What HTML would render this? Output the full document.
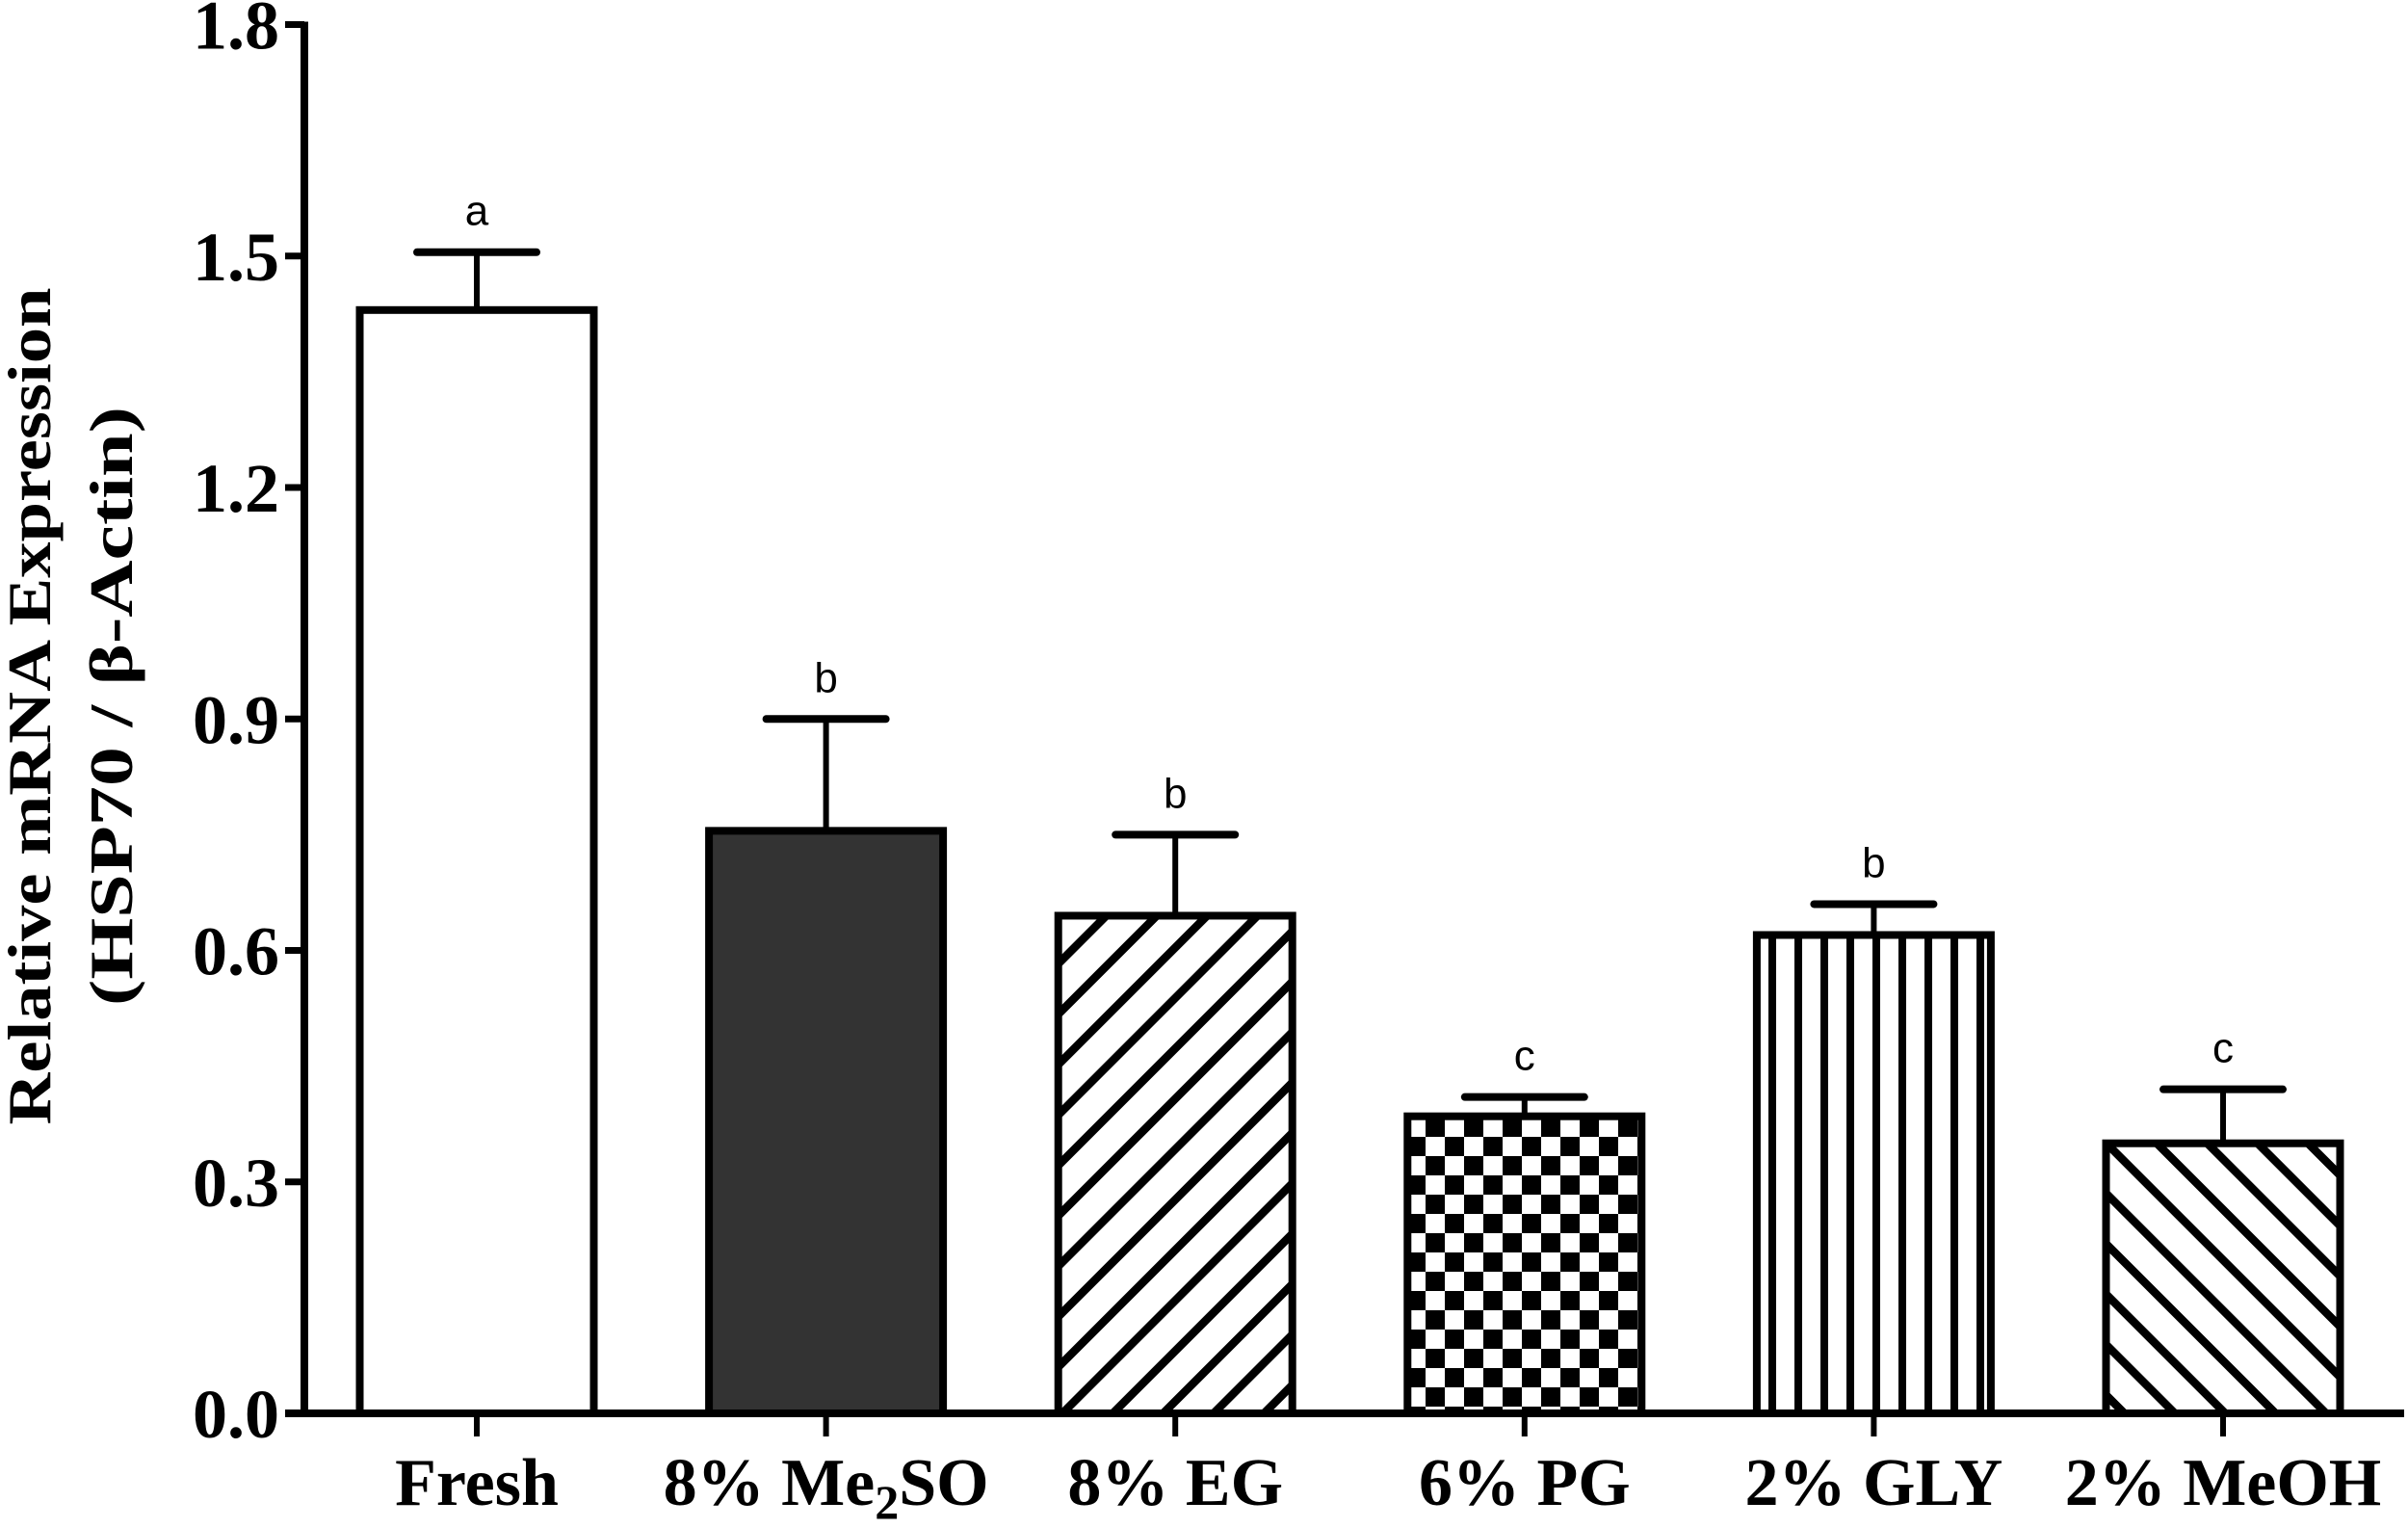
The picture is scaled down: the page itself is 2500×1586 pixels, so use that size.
<!DOCTYPE html>
<html><head><meta charset="utf-8"><style>
html,body{margin:0;padding:0;background:#fff;}
svg{display:block;}
.tick{font-family:"Liberation Serif",serif;font-weight:bold;font-size:72px;}
.xl{font-family:"Liberation Serif",serif;font-weight:bold;font-size:70px;}
.yt{font-family:"Liberation Serif",serif;font-weight:bold;font-size:64px;}
.sig{font-family:"Liberation Sans",sans-serif;font-size:44px;}
</style></head><body>
<svg id="chart" width="2500" height="1586" viewBox="0 0 2500 1586" xmlns="http://www.w3.org/2000/svg">
<defs>
<pattern id="p-fwd" patternUnits="userSpaceOnUse" width="37" height="37" patternTransform="rotate(45)">
<rect width="37" height="37" fill="#fff"/><line x1="0" y1="0" x2="0" y2="37" stroke="#000" stroke-width="17"/></pattern>
<pattern id="p-back" patternUnits="userSpaceOnUse" width="37" height="37" patternTransform="rotate(-45)">
<rect width="37" height="37" fill="#fff"/><line x1="0" y1="0" x2="0" y2="37" stroke="#000" stroke-width="17"/></pattern>
<pattern id="p-vert" patternUnits="userSpaceOnUse" width="27" height="27">
<rect width="27" height="27" fill="#fff"/><rect x="0" y="0" width="8" height="27" fill="#000"/></pattern>
<pattern id="p-check" patternUnits="userSpaceOnUse" width="40" height="40">
<rect width="40" height="40" fill="#fff"/><rect x="0" y="0" width="20" height="20" fill="#000"/><rect x="20" y="20" width="20" height="20" fill="#000"/></pattern>
</defs>
<g id="plot"></g>
<text class="yt" transform="translate(52,733) rotate(-90)" text-anchor="middle" textLength="869" lengthAdjust="spacingAndGlyphs">Relative mRNA Expression</text>
<text class="yt" transform="translate(137,733) rotate(-90)" text-anchor="middle" textLength="622" lengthAdjust="spacingAndGlyphs">(HSP70 / β-Actin)</text>
</svg>
<script>
const categories = ["Fresh", "8% Me2SO", "8% EG", "6% PG", "2% GLY", "2% MeOH"];
const values = [1.43, 0.755, 0.645, 0.385, 0.62, 0.35];
const errors = [0.075, 0.145, 0.105, 0.025, 0.04, 0.07];
const letters = ["a", "b", "b", "c", "b", "c"];
const fills = ["#fff", "#333333", "url(#p-fwd)", "url(#p-check)", "url(#p-vert)", "url(#p-back)"];
const yTicks = [0, 0.3, 0.6, 0.9, 1.2, 1.5, 1.8];
const yTickLabels = ["0.0", "0.3", "0.6", "0.9", "1.2", "1.5", "1.8"];

const NS = "http://www.w3.org/2000/svg";
const g = document.getElementById("plot");
const x0 = 316, yZero = 1467, yTop = 25.5, yMax = 1.8;
const y = v => yZero - (v / yMax) * (yZero - yTop);
const step = 362.6, first = 495, barW = 243;
const xc = i => first + i * step;
function el(tag, attrs, parent) {
  const e = document.createElementNS(NS, tag);
  for (const k in attrs) e.setAttribute(k, attrs[k]);
  (parent || g).appendChild(e);
  return e;
}
categories.forEach((c, i) => {
  const top = y(values[i]);
  const b = el("rect", {x: xc(i) - barW / 2, y: top, width: barW, height: yZero - top, fill: fills[i], stroke: "#000", "stroke-width": 8});
  
  
  const ey = y(values[i] + errors[i]);
  const eb = el("line", {x1: xc(i), y1: top, x2: xc(i), y2: ey, stroke: "#000", "stroke-width": 6});
  
  
  const cap = el("line", {x1: xc(i) - 62, y1: ey, x2: xc(i) + 62, y2: ey, stroke: "#000", "stroke-width": 8, "stroke-linecap": "round"});
  
  
  const s = el("text", {x: xc(i), y: ey - 28, "text-anchor": "middle", class: "sig"});
  s.textContent = letters[i];
  
  
  const tk = el("line", {x1: xc(i), y1: yZero, x2: xc(i), y2: yZero + 24, stroke: "#000", "stroke-width": 6});
  
  
  const t = el("text", {x: xc(i), y: 1562, "text-anchor": "middle", class: "xl"});
  const m = c.match(/^(.*Me)2(SO)$/);
  if (m) {
    t.appendChild(document.createTextNode(m[1]));
    const sub = el("tspan", {dy: 14, "font-size": 50}, t); sub.textContent = "2";
    const rest = el("tspan", {dy: -14}, t); rest.textContent = m[2];
  } else t.textContent = c;
  
  
});
const ya = el("line", {x1: x0, y1: yTop - 3, x2: x0, y2: yZero + 4, stroke: "#000", "stroke-width": 8});


const xa = el("line", {x1: x0 - 20, y1: yZero, x2: 2496, y2: yZero, stroke: "#000", "stroke-width": 8});


yTicks.forEach((v, i) => {
  const tk = el("line", {x1: x0 - 20, y1: y(v), x2: x0, y2: y(v), stroke: "#000", "stroke-width": 7});
  
  
  const t = el("text", {x: x0 - 26, y: y(v) + 25, "text-anchor": "end", class: "tick"});
  t.textContent = yTickLabels[i];
  
  
});
</script>
</body></html>
